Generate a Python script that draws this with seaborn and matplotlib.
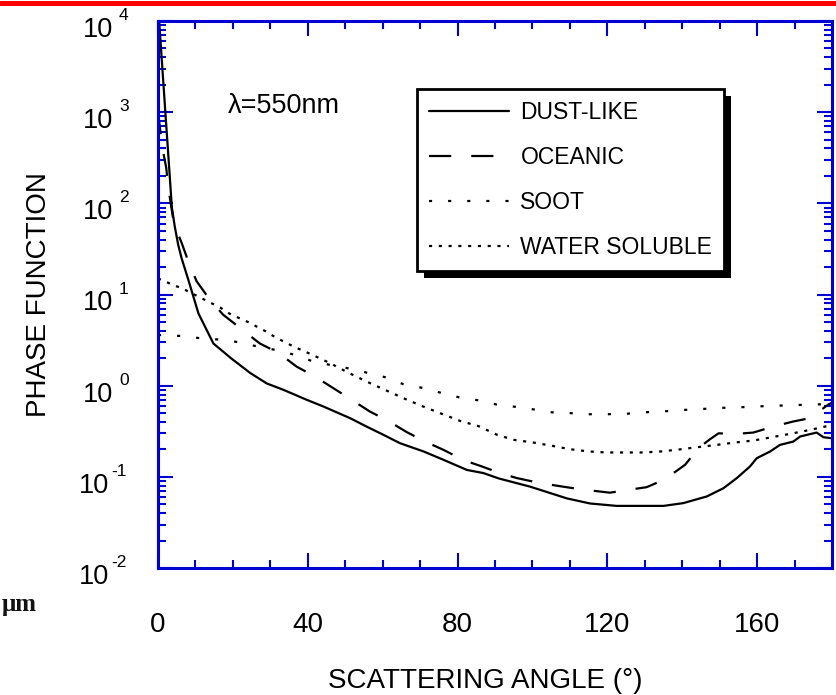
import numpy as np
import pandas as pd
import matplotlib
matplotlib.use("Agg")
import matplotlib.pyplot as plt
import seaborn as sns
from matplotlib.ticker import FixedLocator, MultipleLocator, LogLocator, NullFormatter
from matplotlib.lines import Line2D
from matplotlib.patches import Rectangle
from matplotlib.transforms import IdentityTransform, ScaledTranslation, blended_transform_factory

# ---------------- data ----------------
dust_angle = [0, 0.3, 1.0, 2.0, 3.0, 3.7, 4.5, 5.4, 6.3, 8.1, 10.8, 14.8, 19.5, 24.6, 29.0,
              33.5, 39.7, 44.2, 51.3, 55.7, 60.2, 64.6, 70.9, 76.2, 82.5, 86.9, 91.0, 99.4,
              109.2, 115.4, 122.5, 135.0, 140.3, 146.6, 151.0, 154.6, 158.1, 159.9, 163.5,
              166.1, 169.7, 171.5, 175.9, 177.7, 180.0]
dust_value = [14000, 10000, 3800, 950, 240, 90, 55, 35, 25, 14.5, 6.2, 2.9, 2.0, 1.38, 1.06,
              0.90, 0.70, 0.59, 0.44, 0.356, 0.289, 0.234, 0.19, 0.154, 0.119, 0.11, 0.096, 0.078,
              0.058, 0.051, 0.048, 0.048, 0.0515, 0.061, 0.075, 0.097, 0.13, 0.16, 0.19,
              0.224, 0.244, 0.277, 0.306, 0.272, 0.265]

oceanic_angle = [0, 1.2, 2.2, 2.75, 4.0, 5.0, 6.3, 8.1, 10.3, 13.9, 17.4, 21.9, 27.2, 32.1,
                 37.0, 41.9, 46.8, 51.7, 56.6, 61.5, 66.4, 71.3, 76.2, 81.5, 86.5, 91.3, 95.8,
                 101.1, 105.6, 110.9, 115.4, 120.7, 125.6, 130.5, 135.4, 140.8, 144.3, 147.5,
                 149.7, 154.6, 159.0, 164.3, 169.7, 174.1, 179.0, 180.0]
oceanic_value = [1000, 400, 245, 148, 70, 50, 37, 23, 14, 8.7, 6.0, 4.3, 2.9, 2.3,
                 1.62, 1.26, 0.94, 0.70, 0.52, 0.41, 0.31, 0.244, 0.198, 0.153, 0.13, 0.11, 0.097,
                 0.087, 0.081, 0.075, 0.071, 0.067, 0.072, 0.077, 0.094, 0.136, 0.206, 0.26,
                 0.30, 0.296, 0.306, 0.356, 0.405, 0.44, 0.62, 0.65]

soot_angle = [0, 6.8, 11.6, 16.6, 21.5, 26.4, 31.3, 36.1, 41.0, 45.9, 50.8, 55.7, 60.6, 65.5,
              70.9, 75.8, 80.7, 85.6, 90.5, 94.9, 100.2, 105.2, 110.0, 114.9, 119.8, 124.7,
              129.6, 134.5, 139.4, 144.3, 149.2, 154.1, 159.0, 163.9, 168.8, 174.1, 180.0]
soot_value = [3.6, 3.5, 3.3, 3.2, 3.0, 2.7, 2.47, 2.2, 1.87, 1.69, 1.55, 1.39, 1.24, 1.04,
              0.94, 0.83, 0.74, 0.69, 0.62, 0.59, 0.55, 0.51, 0.50, 0.486, 0.486, 0.49,
              0.51, 0.52, 0.54, 0.55, 0.57, 0.575, 0.59, 0.60, 0.61, 0.62, 0.63]

water_angle = [0, 4.1, 6.8, 11.4, 16.6, 19.0, 21.3, 24.0, 29.0, 31.3, 36.1, 41.0, 45.9, 50.8,
               55.7, 60.6, 65.5, 70.4, 75.3, 80.7, 85.6, 90.5, 94.9, 100.2, 105.2, 110.0,
               114.9, 119.8, 124.7, 129.6, 134.5, 139.4, 144.3, 149.2, 154.1, 159.0, 163.9,
               168.8, 174.1, 180.0]
water_value = [15, 12.7, 11.5, 9.2, 7.2, 6.2, 5.6, 5.0, 3.9, 3.4, 2.7, 2.2, 1.77, 1.39,
               1.11, 0.90, 0.73, 0.60, 0.50, 0.41, 0.36, 0.29, 0.255, 0.238, 0.219, 0.201,
               0.19, 0.185, 0.185, 0.185, 0.19, 0.20, 0.212, 0.224, 0.238, 0.25, 0.272,
               0.296, 0.327, 0.37]

series_names = ["DUST-LIKE", "OCEANIC", "SOOT", "WATER SOLUBLE"]
x_ticks = [0, 40, 80, 120, 160]
y_exponents = [-2, -1, 0, 1, 2, 3, 4]
annotation = "λ=550nm"
x_label = "SCATTERING ANGLE (°)"
y_label = "PHASE FUNCTION"
scan_text = "μm"

# ---------------- styling ----------------
sns.set_theme(style="ticks")
plt.rcParams["font.family"] = ["Liberation Sans", "DejaVu Sans"]
plt.rcParams["text.color"] = "black"
plt.rcParams["axes.labelcolor"] = "black"
BLUE = "#0000d2"

frames = []
for name, a, v in zip(series_names,
                      [dust_angle, oceanic_angle, soot_angle, water_angle],
                      [dust_value, oceanic_value, soot_value, water_value]):
    frames.append(pd.DataFrame({"angle": a, "value": v, "series": name}))
df = pd.concat(frames, ignore_index=True)

dash_map = {"DUST-LIKE": "", "OCEANIC": (10, 9), "SOOT": (1.4, 7.2), "WATER SOLUBLE": (1.4, 3.0)}

fig = plt.figure(figsize=(8.36, 6.95), dpi=100)
fig.patch.set_facecolor("white")
ax = fig.add_axes([158 / 836, 1 - 568 / 695, (832 - 158) / 836, (568 - 21) / 695])

sns.lineplot(data=df, x="angle", y="value", style="series", style_order=series_names,
             dashes=dash_map, color="black", lw=1.6, estimator=None, sort=False,
             legend=False, ax=ax)

ax.set_yscale("log")
ax.set_xlim(0, 180)
ax.set_ylim(1e-2, 1e4)

ax.xaxis.set_major_locator(FixedLocator(x_ticks))
ax.xaxis.set_minor_locator(MultipleLocator(10))
ax.yaxis.set_major_locator(FixedLocator([10.0 ** e for e in y_exponents]))
ax.yaxis.set_minor_locator(LogLocator(base=10, subs=np.arange(2, 10)))
ax.yaxis.set_minor_formatter(NullFormatter())

ax.tick_params(axis="both", which="both", direction="in", top=True, right=True,
               color=BLUE, width=1.5, labelcolor="black")
ax.tick_params(which="major", length=11)
ax.tick_params(which="minor", length=6)
ax.tick_params(axis="x", which="major", labelsize=20, pad=32)
ax.tick_params(axis="y", which="both", labelleft=False)
for s in ax.spines.values():
    s.set_color(BLUE)
    s.set_linewidth(2.2)
ax.grid(False)

# y tick labels: "10" with a small raised exponent, placed at each decade tick
ytrans = blended_transform_factory(ax.transAxes, ax.transData)
for e in y_exponents:
    base_dx, exp_dx = (-49, -47) if e < 0 else (-45, -39)
    ax.text(0, 10.0 ** e, "10", fontsize=19.5, ha="right", va="baseline", clip_on=False,
            transform=ytrans + ScaledTranslation(base_dx / 100, -16 / 100, fig.dpi_scale_trans))
    ax.text(0, 10.0 ** e, str(e), fontsize=12.5, ha="left", va="baseline", clip_on=False,
            transform=ytrans + ScaledTranslation(exp_dx / 100, 1 / 100, fig.dpi_scale_trans))

ax.set_xlabel(x_label, fontsize=20)
ax.xaxis.set_label_coords(0.485, -0.183)
ax.set_ylabel(y_label, fontsize=20)
ax.yaxis.set_label_coords(-0.158, 0.5)

ax.text(0.104, 0.832, annotation, transform=ax.transAxes, fontsize=19.5,
        ha="left", va="baseline")

leg = ax.legend(ax.lines[:4], series_names, loc="upper left",
                bbox_to_anchor=(0.384, 0.8755), borderaxespad=0, fontsize=16.5,
                frameon=True, fancybox=False, edgecolor="black", framealpha=1,
                handlelength=3.5, handletextpad=0.5, borderpad=0.52, labelspacing=0.96)
leg.get_frame().set_linewidth(2)

fig.canvas.draw()
bb = leg.get_frame().get_window_extent()
shadow = Rectangle((bb.x0 + 7, bb.y0 - 7), bb.width, bb.height, transform=IdentityTransform(),
                   facecolor="black", edgecolor="none", zorder=4.9, clip_on=False)
ax.add_artist(shadow)

# top red rule and the scanned text fragment at bottom-left
fig.add_artist(Line2D([0, 1], [1 - 2.5 / 695, 1 - 2.5 / 695], transform=fig.transFigure,
                      color="red", lw=3.6))
fig.text(2 / 836, 1 - 611 / 695, scan_text, ha="left", va="baseline",
         fontfamily="Liberation Serif", fontweight="bold", fontsize=18, color="#111111")

fig.savefig("out.png", dpi=100, facecolor="white")
